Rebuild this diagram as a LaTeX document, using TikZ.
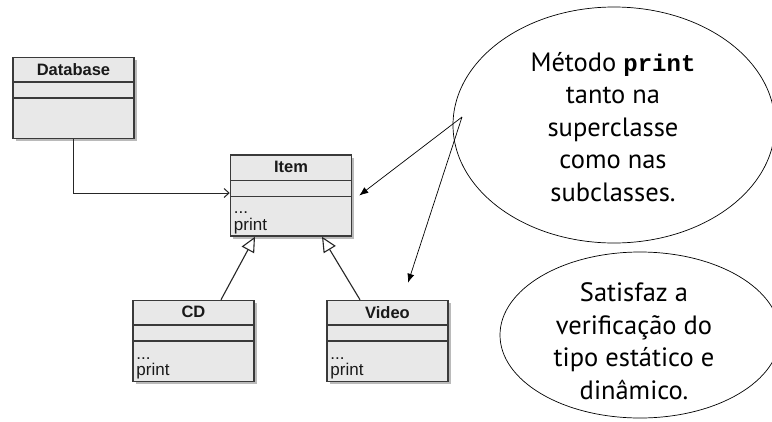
\documentclass[tikz,border=0pt]{standalone}
\usepackage{fontspec}
\setmainfont{PT Sans}
\newfontfamily\umlfont{Liberation Sans}
\newfontfamily\codefont{Liberation Mono}
\usetikzlibrary{arrows.meta,shapes.geometric,shadows,calc}
\definecolor{boxfill}{HTML}{E8E8E8}
\definecolor{boxline}{HTML}{3A3A3A}

\begin{document}
\begin{tikzpicture}[x=1pt,y=-1pt,
  classbox/.style={draw=boxline, line width=1.5pt, fill=boxfill,
    drop shadow={shadow xshift=2.5pt, shadow yshift=-2.5pt, fill=black!45, opacity=0.6},
    minimum width=121pt, minimum height=81pt, inner sep=0pt},
  classname/.style={font=\umlfont\bfseries\fontsize{16.5}{17}\selectfont, text=black!90, inner sep=0pt},
  members/.style={font=\umlfont\fontsize{17}{16.5}\selectfont, text=black!90, align=left,
    inner sep=0pt, anchor=south west},
  sep/.style={draw=boxline, line width=1.5pt},
  assoc/.style={draw=black!85, line width=1pt, -{Straight Barb[length=5pt,width=9pt]}},
  inherit/.style={draw=black!85, line width=1.1pt, -{Triangle[open, length=15pt, width=14pt, fill=white]}},
  note/.style={draw=black, line width=0.7pt, ellipse, inner sep=0pt},
  notetext/.style={font=\fontsize{26.5}{32.5}\selectfont, align=center, inner sep=0pt},
  pointer/.style={draw=black, line width=0.7pt, -{Latex[length=9pt,width=7pt]}}
]
\useasboundingbox (0,0) rectangle (772,421);
\fill[white] (0,0) rectangle (772,421);

% ---- UML classes ----
\node[classbox] (db) at (73.5,98) {};
\node[classname] (dbname) at ($(db.north)+(0,12.5)$) {Database};
\draw[sep] ($(db.north west)+(0,25)$) -- ($(db.north east)+(0,25)$);
\draw[sep] ($(db.north west)+(0,41)$) -- ($(db.north east)+(0,41)$);

\node[classbox] (item) at (291,195.5) {};
\node[classname] (itemname) at ($(item.north)+(0,12.5)$) {Item};
\draw[sep] ($(item.north west)+(0,26)$) -- ($(item.north east)+(0,26)$);
\draw[sep] ($(item.north west)+(0,42)$) -- ($(item.north east)+(0,42)$);
\node[members] (itemattr) at ($(item.south west)+(4,-3)$) {...\\print};

\node[classbox] (cd) at (193.5,341) {};
\node[classname] (cdname) at ($(cd.north)+(0,12.5)$) {CD};
\draw[sep] ($(cd.north west)+(0,25)$) -- ($(cd.north east)+(0,25)$);
\draw[sep] ($(cd.north west)+(0,41)$) -- ($(cd.north east)+(0,41)$);
\node[members] (cdattr) at ($(cd.south west)+(4,-3)$) {...\\print};

\node[classbox] (video) at (387.5,341) {};
\node[classname] (videoname) at ($(video.north)+(0,12.5)$) {Video};
\draw[sep] ($(video.north west)+(0,25)$) -- ($(video.north east)+(0,25)$);
\draw[sep] ($(video.north west)+(0,41)$) -- ($(video.north east)+(0,41)$);
\node[members] (videoattr) at ($(video.south west)+(4,-3)$) {...\\print};

% ---- relations ----
\draw[assoc] (db.south) |- ([yshift=2.5pt]item.west);
\draw[inherit] ([xshift=27.5pt]cd.north) -- ([xshift=-36pt]item.south);
\draw[inherit] ([xshift=-27.5pt]video.north) -- ([xshift=31pt]item.south);

% ---- notes ----
\node[note, minimum width=322pt, minimum height=236pt] (note1) at (614,125) {};
\node[notetext] (note1text) at (613,127)
  {Método {\codefont\bfseries\fontsize{24}{32}\selectfont print}\\tanto na\\superclasse\\como nas\\subclasses.};
\node[note, minimum width=280pt, minimum height=166pt] (note2) at (640,335) {};
\node[notetext] (note2text) at (634,341)
  {Satisfaz a\\verificação do\\tipo estático e\\dinâmico.};

\coordinate (src) at (462,117);
\draw[pointer] (src) -- ([xshift=7pt]item.east);
\draw[pointer] (src) -- ([xshift=20.5pt,yshift=17pt]video.north);
\end{tikzpicture}
\end{document}
